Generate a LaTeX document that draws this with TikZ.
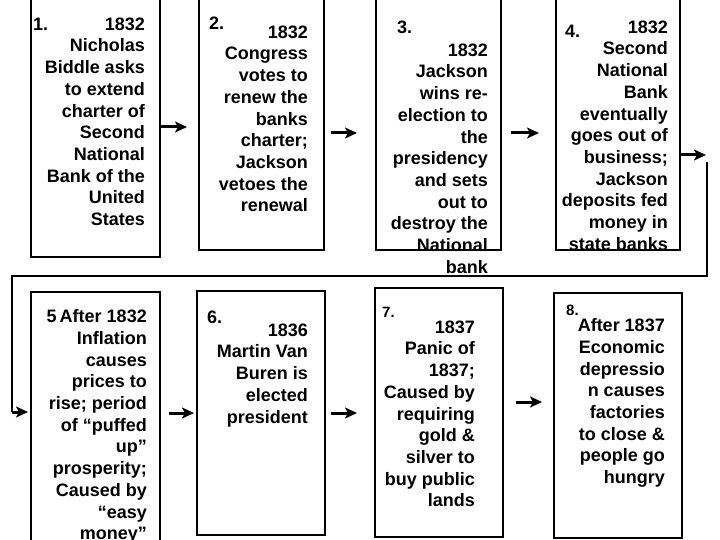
\documentclass[tikz,border=0pt]{standalone}
\usepackage{fontspec}
\setmainfont{Liberation Sans}
\usetikzlibrary{arrows.meta,calc,positioning}

\tikzset{
  evbox/.style={draw, line width=2pt, inner sep=0pt},
  evtext/.style={anchor=north east, align=right, inner sep=0pt,
    font=\fontsize{18}{21.7}\selectfont\bfseries},
  numlabel/.style={anchor=west, inner sep=0pt,
    font=\fontsize{18}{21.7}\selectfont\bfseries},
  smallnum/.style={numlabel, font=\fontsize{15}{17}\selectfont\bfseries},
  flowarrow/.style={line width=3pt, -{Stealth[length=12pt, width=11pt, inset=3pt]}},
  routeline/.style={line width=2pt}
}

\begin{document}
\begin{tikzpicture}[x=1pt, y=-1pt]
            \clip (0,0) rectangle (720,540);

            % Event boxes, top row and bottom row
            \foreach \n/\cx/\cy/\w/\h in {1/95.5/126/129/262, 2/261.5/122.5/125/255,
                3/438.5/122.5/125/255, 4/618/122.5/124/255,
                5/95.5/420/129/256, 6/261/413/128/244,
                7/439/412.5/128/249, 8/618/415.5/128/245} {
                \node[evbox, minimum width=\w pt, minimum height=\h pt] (b\n) at (\cx,\cy) {};
            }

            % Texts of the top row
            \node[numlabel] (n1) at (33,24) {1.};
            \node[evtext] (t1) at (145,17.5) {1832\\Nicholas\\Biddle asks\\to extend\\charter of\\Second\\National\\Bank of the\\United\\States};
            \node[numlabel] (n2) at (209,23) {2.};
            \node[evtext] (t2) at (308,25.5) {1832\\Congress\\votes to\\renew the\\banks\\charter;\\Jackson\\vetoes the\\renewal};
            \node[numlabel] (n3) at (397,27) {3.};
            \node[evtext] (t3) at (488,43.5) {1832\\Jackson\\wins re-\\election to\\the\\presidency\\and sets\\out to\\destroy the\\National\\bank};
            \node[numlabel] (n4) at (565,31) {4.};
            \node[evtext] (t4) at (668,20.5) {1832\\Second\\National\\Bank\\eventually\\goes out of\\business;\\Jackson\\deposits fed\\money in\\state banks};

            % Texts of the bottom row
            \node[evtext] (t5) at (147,309.5) {5\,After 1832\\Inflation\\causes\\prices to\\rise; period\\of “puffed\\up”\\prosperity;\\Caused by\\“easy\\money”};
            \node[numlabel] (n6) at (207,317) {6.};
            \node[evtext] (t6) at (308,323.5) {1836\\Martin Van\\Buren is\\elected\\president};
            \node[smallnum] (n7) at (382,312) {7.};
            \node[evtext] (t7) at (475,320.5) {1837\\Panic of\\1837;\\Caused by\\requiring\\gold \&\\silver to\\buy public\\lands};
            \node[smallnum] (n8) at (566,310) {8.};
            \node[evtext] (t8) at (665,318.5) {After 1837\\Economic\\depressio\\n causes\\factories\\to close \&\\people go\\hungry};

            % Arrows between neighbouring boxes
            \foreach \p/\q/\yy/\s/\e in {1/2/127/0/11, 2/3/133/6/18, 3/4/133/9/16,
                5/6/413/8/2, 6/7/413/5/17, 7/8/402/12/11} {
                \coordinate (lvl) at (0,\yy);
                \draw[flowarrow, shorten <=\s pt, shorten >=\e pt] (b\p.east |- lvl) -- (b\q.west |- lvl);
            }

            % Return line from box 4 to box 5
            \coordinate (r0) at (706,155);
            \coordinate (r1) at (707,162);
            \coordinate (r2) at (12,276);
            \coordinate (r3) at (12,412);
            \draw[flowarrow] (b4.east |- r0) -- (r0);
            \draw[routeline] (r1) |- (r2) -- (r3);
            \draw[flowarrow, shorten >=2pt] (r3) -- (r3 -| b5.west);

        \end{tikzpicture}
\end{document}
